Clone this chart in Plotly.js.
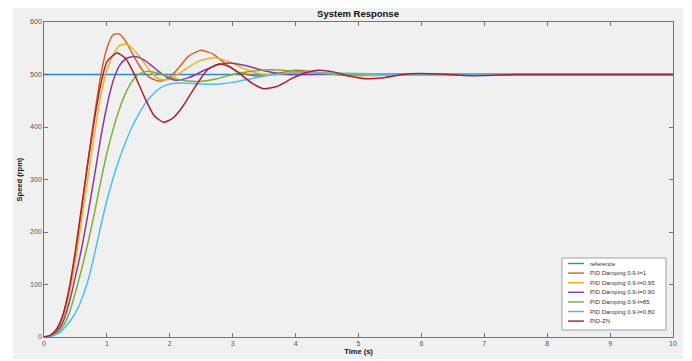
<!DOCTYPE html>
<html>
<head>
<meta charset="utf-8">
<script src="https://cdn.plot.ly/plotly-3.0.1.min.js"></script>
<style>html,body{margin:0;padding:0;background:#fff;}#chart{width:692px;height:361px;}</style>
</head>
<body>
<div id="chart"></div>
<script>
// ---- data ----
var seriesNames = ['reference', 'PID Damping 0.9-I=1', 'PID Damping 0.9-I=0.95', 'PID Damping 0.9-I=0.90', 'PID Damping 0.9-I=85', 'PID Damping 0.9-I=0.80', 'PID-ZN'];
var seriesColors = ['#2e86d0', '#DD5E25', '#EDB120', '#8A3B9A', '#7CB035', '#4DBEEE', '#A8203A'];

var tRef = [0, 10];
var vRef = [500, 500];

var tI100 = [0, 0.1, 0.2, 0.3, 0.4, 0.5, 0.6, 0.7, 0.8, 0.9, 1.0, 1.1, 1.2, 1.3, 1.4, 1.5, 1.6, 1.7, 1.85, 2.0, 2.15, 2.3, 2.5, 2.7, 2.9, 3.1, 3.4, 3.7, 4.0, 4.3, 4.7, 5.2, 6.0, 7.0, 8.0, 10];
var vI100 = [0, 3, 15, 40, 90, 160, 245, 335, 420, 497, 550, 576, 577, 563, 541, 520, 503, 493, 487, 495, 514, 535, 546, 538, 519, 504, 497, 502, 508, 505, 499, 498, 501, 500, 500, 500];

var tI095 = [0, 0.1, 0.2, 0.3, 0.4, 0.5, 0.6, 0.7, 0.8, 0.9, 1.0, 1.1, 1.2, 1.3, 1.4, 1.5, 1.6, 1.7, 1.82, 1.95, 2.1, 2.25, 2.45, 2.7, 2.95, 3.2, 3.5, 3.8, 4.1, 4.5, 5.0, 5.5, 6.0, 7.0, 10];
var vI095 = [0, 2, 12, 35, 80, 145, 225, 305, 385, 458, 508, 538, 555, 558, 550, 537, 521, 505, 492, 490, 498, 510, 525, 532, 524, 510, 500, 501, 505, 502, 499, 499, 501, 500, 500];

var tI090 = [0, 0.1, 0.2, 0.3, 0.4, 0.5, 0.6, 0.7, 0.8, 0.9, 1.0, 1.1, 1.2, 1.3, 1.4, 1.5, 1.6, 1.7, 1.8, 1.95, 2.1, 2.3, 2.55, 2.75, 2.96, 3.2, 3.5, 3.8, 4.2, 4.6, 5.0, 6.0, 10];
var vI090 = [0, 2, 10, 28, 65, 115, 170, 235, 305, 378, 440, 488, 517, 530, 534, 533, 527, 518, 508, 495, 489, 494, 508, 518, 522, 517, 507, 501, 500, 502, 501, 500, 500];

var tI085 = [0, 0.1, 0.2, 0.3, 0.4, 0.5, 0.6, 0.7, 0.8, 0.9, 1.0, 1.1, 1.2, 1.3, 1.4, 1.5, 1.64, 1.8, 2.0, 2.25, 2.5, 2.75, 3.0, 3.3, 3.6, 3.9, 4.3, 4.8, 5.5, 6.5, 10];
var vI085 = [0, 1, 7, 20, 45, 85, 130, 180, 235, 295, 350, 396, 435, 465, 487, 500, 506, 503, 495, 488, 487, 492, 500, 506, 509, 507, 503, 500, 501, 500, 500];

var tI080 = [0, 0.1, 0.2, 0.3, 0.4, 0.5, 0.6, 0.7, 0.8, 0.9, 1.0, 1.1, 1.2, 1.3, 1.4, 1.5, 1.6, 1.7, 1.8, 1.9, 2.0, 2.2, 2.5, 2.8, 3.0, 3.3, 3.6, 4.0, 4.5, 5.0, 5.5, 6.0, 7.0, 10];
var vI080 = [0, 1, 5, 14, 28, 46, 72, 108, 156, 210, 260, 303, 340, 372, 400, 423, 443, 458, 470, 478, 482, 484, 482, 482, 485, 492, 499, 503, 503, 502, 500, 499, 500, 500];

var tZN = [0, 0.1, 0.2, 0.3, 0.4, 0.5, 0.6, 0.7, 0.8, 0.9, 1.0, 1.16, 1.3, 1.45, 1.6, 1.75, 1.9, 2.05, 2.2, 2.4, 2.6, 2.78, 2.95, 3.15, 3.3, 3.49, 3.7, 3.95, 4.15, 4.36, 4.6, 4.85, 5.1, 5.4, 5.7, 5.95, 6.3, 6.7, 7.0, 7.5, 8.0, 10];
var vZN = [0, 3, 15, 42, 92, 165, 250, 335, 413, 480, 524, 541, 530, 497, 456, 422, 409, 417, 438, 476, 509, 520, 515, 498, 484, 473, 477, 493, 503, 508, 505, 497, 492, 494, 500, 502, 501, 498, 498, 500, 500, 500];

var xTicks = [0, 1, 2, 3, 4, 5, 6, 7, 8, 9, 10];
var yTicks = [0, 100, 200, 300, 400, 500, 600];

// ---- build ----
var times = [tRef, tI100, tI095, tI090, tI085, tI080, tZN];
var vals = [vRef, vI100, vI095, vI090, vI085, vI080, vZN];
var traces = [];
for (var i = 0; i < seriesNames.length; i++) {
  traces.push({
    x: times[i], y: vals[i], name: seriesNames[i], type: 'scatter', mode: 'lines',
    line: {color: seriesColors[i], width: 1.5, shape: i === 0 ? 'linear' : 'spline', smoothing: 0.6},
    hoverinfo: 'skip'
  });
}

var W = 692, H = 361, ML = 44, MR = 19, MT = 22, MB = 24;
var PW = W - ML - MR, PH = H - MT - MB;
function px(x) { return (x - ML) / PW; }
function py(y) { return (H - MB - y) / PH; }

var FONT = 'Arial, "Liberation Sans", sans-serif';
var shapes = [
  {type: 'rect', xref: 'paper', yref: 'paper', x0: px(13), x1: px(683), y0: py(359), y1: py(8),
   fillcolor: '#f0f0f0', line: {width: 0}, layer: 'below'},
  {type: 'rect', xref: 'paper', yref: 'paper', x0: px(562), x1: px(666), y0: py(330), y1: py(258),
   fillcolor: '#ffffff', line: {color: '#8a8a8a', width: 0.8}, layer: 'above'}
];
var annotations = [];
var rowTop = 263.5, rowStep = 9.6;
for (var k = 0; k < seriesNames.length; k++) {
  var ry = rowTop + k * rowStep;
  shapes.push({type: 'line', xref: 'paper', yref: 'paper', x0: px(568), x1: px(584), y0: py(ry), y1: py(ry),
    line: {color: seriesColors[k], width: 1.4}, layer: 'above'});
  annotations.push({xref: 'paper', yref: 'paper', x: px(588), y: py(ry), xanchor: 'left', yanchor: 'middle',
    text: seriesNames[k], showarrow: false, font: {family: FONT, size: 6, color: '#333'}});
}

var layout = {
  width: W, height: H,
  margin: {l: ML, r: MR, t: MT, b: MB, pad: 0},
  paper_bgcolor: '#ffffff', plot_bgcolor: '#ffffff',
  showlegend: false,
  title: {text: '<b>System Response</b>', font: {family: FONT, size: 9.5, color: '#111'},
    x: 358 / W, xanchor: 'center', y: 1 - 14 / H, yanchor: 'middle', xref: 'container', yref: 'container'},
  xaxis: {range: [0, 10], tickvals: xTicks, ticktext: xTicks.map(String), ticks: 'inside', ticklen: 4, tickwidth: 0.8,
    tickcolor: '#555', showline: true, linecolor: '#555', linewidth: 0.8, mirror: 'ticks', showgrid: false, zeroline: false,
    tickfont: {family: FONT, size: 7, color: '#555'},
    title: {text: '<b>Time (s)</b>', font: {family: FONT, size: 7.5, color: '#111'}, standoff: 1}},
  yaxis: {range: [0, 600], tickvals: yTicks, ticktext: yTicks.map(String), ticks: 'inside', ticklen: 4, tickwidth: 0.8,
    tickcolor: '#555', showline: true, linecolor: '#555', linewidth: 0.8, mirror: 'ticks', showgrid: false, zeroline: false,
    tickfont: {family: FONT, size: 7, color: '#555'},
    title: {text: '<b>Speed (rpm)</b>', font: {family: FONT, size: 7.5, color: '#111'}, standoff: 6}},
  shapes: shapes,
  annotations: annotations
};

Plotly.newPlot('chart', traces, layout, {displayModeBar: false, staticPlot: true});
</script>
</body>
</html>
